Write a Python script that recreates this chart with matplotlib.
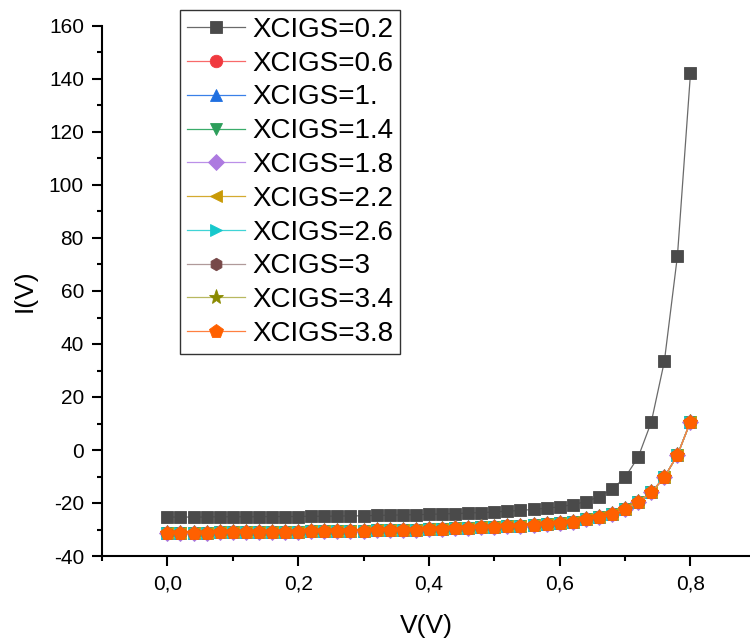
import matplotlib

matplotlib.use("Agg")
import matplotlib.pyplot as plt
from matplotlib.ticker import FuncFormatter, MultipleLocator

plt.rcParams["font.family"] = ["Liberation Sans", "DejaVu Sans"]

# bias voltage sweep (V)
voltage = [0.00, 0.02, 0.04, 0.06, 0.08, 0.10, 0.12, 0.14, 0.16, 0.18,
           0.20, 0.22, 0.24, 0.26, 0.28, 0.30, 0.32, 0.34, 0.36, 0.38,
           0.40, 0.42, 0.44, 0.46, 0.48, 0.50, 0.52, 0.54, 0.56, 0.58,
           0.60, 0.62, 0.64, 0.66, 0.68, 0.70, 0.72, 0.74, 0.76, 0.78, 0.80]

# current for XCIGS = 0.2
current_02 = [-25.3, -25.3, -25.3, -25.3, -25.2, -25.2, -25.2, -25.2, -25.1, -25.1,
              -25.1, -25.0, -25.0, -24.9, -24.9, -24.8, -24.7, -24.6, -24.5, -24.4,
              -24.3, -24.1, -24.0, -23.8, -23.6, -23.4, -23.1, -22.8, -22.4, -22.0,
              -21.4, -20.6, -19.5, -17.6, -14.8, -10.3, -2.7, 10.5, 33.4, 73.2, 142.2]

# current for XCIGS = 0.6 ... 3.8 (curves coincide)
current_rest = [-31.3, -31.3, -31.2, -31.2, -31.1, -31.1, -31.0, -31.0, -30.9, -30.9,
                -30.8, -30.7, -30.7, -30.6, -30.5, -30.4, -30.3, -30.2, -30.1, -30.0,
                -29.9, -29.7, -29.6, -29.4, -29.2, -29.0, -28.8, -28.6, -28.3, -28.0,
                -27.6, -27.0, -26.2, -25.4, -24.3, -22.3, -19.7, -16.0, -10.3, -1.9, 10.7]

labels = ["XCIGS=0.2", "XCIGS=0.6", "XCIGS=1.", "XCIGS=1.4", "XCIGS=1.8",
          "XCIGS=2.2", "XCIGS=2.6", "XCIGS=3", "XCIGS=3.4", "XCIGS=3.8"]
series = [current_02] + [current_rest] * 9

markers = ["s", "o", "^", "v", "D", "<", ">", "h", "*", "p"]
marker_colors = ["#4a4a4a", "#f0393f", "#1f6fe0", "#2c9e5a", "#ad7ae0",
                 "#c99a06", "#16c8cc", "#774848", "#8a8a00", "#ff6000"]
line_colors = ["#6a6a6a", "#f86a6a", "#3a80e8", "#3aac6a", "#bb90e8",
               "#d4aa30", "#40d4d6", "#b09a9a", "#b8b860", "#ff8040"]
marker_sizes = [8, 9, 9, 9, 8, 9, 9, 9, 11, 10]

fig = plt.figure(figsize=(7.5, 6.44), dpi=100)
ax = fig.add_axes([102 / 750, 88 / 644, 648 / 750, 530 / 644])

for vals, lab, m, mc, lc, ms in zip(series, labels, markers, marker_colors, line_colors, marker_sizes):
    ax.plot(voltage, vals, color=lc, lw=0.9, marker=m, ms=ms,
            markerfacecolor=mc, markeredgecolor=mc, markeredgewidth=0.6, label=lab)

ax.set_xlim(-0.1, 0.891)
ax.set_ylim(-40, 160)
ax.xaxis.set_major_locator(MultipleLocator(0.2))
ax.xaxis.set_minor_locator(MultipleLocator(0.1))
ax.yaxis.set_major_locator(MultipleLocator(20))
ax.yaxis.set_minor_locator(MultipleLocator(10))
ax.xaxis.set_major_formatter(FuncFormatter(lambda v, _: f"{v:.1f}".replace(".", ",")))
ax.yaxis.set_major_formatter(FuncFormatter(lambda v, _: f"{v:.0f}".replace("\u2212", "-")))

for side in ("top", "right"):
    ax.spines[side].set_visible(False)
for side in ("left", "bottom"):
    ax.spines[side].set_linewidth(1.5)
ax.tick_params(which="major", direction="out", length=7, width=1.5, labelsize=15, pad=6)
ax.tick_params(which="minor", direction="out", length=3.6, width=1.5)

ax.set_xlabel("V(V)", fontsize=19, labelpad=15)
ax.set_ylabel("I(V)", fontsize=19, labelpad=9)

leg = ax.legend(loc="upper left", bbox_to_anchor=(180 / 750, 1 - 10 / 644),
                bbox_transform=fig.transFigure, borderaxespad=0, fontsize=20,
                frameon=True, fancybox=False, edgecolor="#333333", framealpha=1,
                handlelength=2.1, handletextpad=0.25, labelspacing=0.28, borderpad=0.25)
leg.get_frame().set_linewidth(1.0)

fig.savefig("out.png", dpi=100)
